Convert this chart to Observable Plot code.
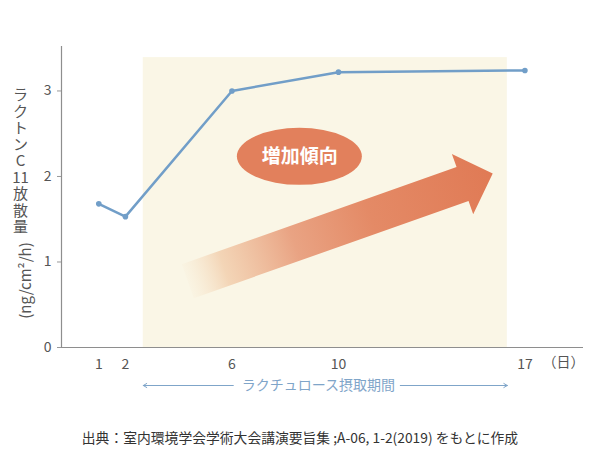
<!DOCTYPE html>
<html><head><meta charset="utf-8">
<script src="https://cdn.jsdelivr.net/npm/d3@7"></script>
<script src="https://cdn.jsdelivr.net/npm/@observablehq/plot@0.6"></script>
<style>
body{margin:0;background:#fff;font-family:"Noto Sans CJK JP","Noto Sans",sans-serif;}
#chart{width:600px;}
.caption{font-size:13.8px;line-height:18px;color:#333;text-align:center;margin-top:8px;}
</style></head><body><div id="chart"></div>
<script>
// data
const days = [1, 2, 6, 10, 17];
const emission = [1.68, 1.53, 3.00, 3.22, 3.24];
const yTicks = [0, 1, 2, 3];
const intakePeriod = [2.67, 16.34];   // ラクチュロース摂取期間 (日)
const intakeTop = 3.39;
const trendTail = [4.36, 0.77];
const trendTip = [15.81, 2.03];
const trendBadge = [8.55, 2.23];
const badgeText = "増加傾向";
const periodText = "ラクチュロース摂取期間";
const dayUnit = "（日）";
const yLabelChars = ["ラ", "ク", "ト", "ン", "C", "11", "放", "散", "量"];
const yLabelUnit = "(ng/cm²/h)";
const captionText = "出典：室内環境学会学術大会講演要旨集 ;A-06, 1-2(2019) をもとに作成";

const points = days.map((d, i) => ({day: d, value: emission[i]}));
const periodMid = (intakePeriod[0] + intakePeriod[1]) / 2;

function trendDecor(index, scales) {
  const {x, y} = scales;
  const g = d3.create("svg:g");
  const t = [x(trendTail[0]), y(trendTail[1])];
  const p = [x(trendTip[0]), y(trendTip[1])];
  const dx = p[0] - t[0], dy = p[1] - t[1];
  const L = Math.hypot(dx, dy);
  const u = [dx / L, dy / L];
  const n = [-u[1], u[0]];
  const sw = 18, hw = 32, hl = 32;
  const b = [p[0] - u[0] * hl, p[1] - u[1] * hl];
  const pt = (c, k) => [c[0] + n[0] * k, c[1] + n[1] * k];
  const poly = [pt(t, sw), pt(b, sw), pt(b, hw), p, pt(b, -hw), pt(b, -sw), pt(t, -sw)];
  const defs = g.append("defs");
  const grad = defs.append("linearGradient")
    .attr("id", "trendGrad").attr("gradientUnits", "userSpaceOnUse")
    .attr("x1", t[0]).attr("y1", t[1]).attr("x2", p[0]).attr("y2", p[1]);
  [[0, "#f6e2c6", 0.1], [0.12, "#f2cfae", 0.85], [0.35, "#e9a383", 1], [0.6, "#e48a66", 1], [1, "#e07a55", 1]]
    .forEach(([o, c, a]) => grad.append("stop").attr("offset", o).attr("stop-color", c).attr("stop-opacity", a));
  g.append("polygon").attr("points", poly.map(q => q.join(",")).join(" ")).attr("fill", "url(#trendGrad)");
  g.append("ellipse")
    .attr("cx", x(trendBadge[0])).attr("cy", y(trendBadge[1]))
    .attr("rx", 62.5).attr("ry", 28.5).attr("fill", "#e2805c");
  return g.node();
}

const plot = Plot.plot({
  width: 600,
  height: 420,
  marginLeft: 61,
  marginRight: 17,
  marginTop: 46,
  marginBottom: 73,
  x: {domain: [-0.4, 19.2]},
  y: {domain: [0, 3.52]},
  style: {fontFamily: '"Noto Sans CJK JP","Noto Sans",sans-serif', background: "#fff", overflow: "visible"},
  marks: [
    Plot.rect([intakePeriod], {x1: d => d[0], x2: d => d[1], y1: 0, y2: intakeTop, fill: "#faf6e6"}),
    Plot.ruleY([0], {stroke: "#8e8e8e", strokeWidth: 1.2}),
    Plot.ruleX([-0.4], {y1: 0, y2: 3.52, stroke: "#8e8e8e", strokeWidth: 1.2}),
    Plot.axisX(days, {tickSize: 0, tickPadding: 12, fontSize: 14, color: "#555", label: null, tickFormat: d3.format("d")}),
    Plot.axisY(yTicks, {tickSize: 4, tickPadding: 6, fontSize: 14, color: "#555", stroke: "#999", label: null, tickFormat: d3.format("d")}),
    trendDecor,
    Plot.text([badgeText], {x: trendBadge[0], y: trendBadge[1], text: d => d, fill: "#fff", fontSize: 19, fontWeight: "bold"}),
    Plot.line(points, {x: "day", y: "value", stroke: "#719ec8", strokeWidth: 2.5}),
    Plot.dot(points, {x: "day", y: "value", r: 2.8, fill: "#719ec8"}),
    Plot.text([dayUnit], {frameAnchor: "bottom-right", dx: -20, dy: 19, textAnchor: "middle", text: d => d, fontSize: 14, fill: "#555"}),
    Plot.text([periodText], {x: periodMid, y: 0, dy: 38, dx: -7, text: d => d, fontSize: 14, fill: "#7fa5c9"}),
    Plot.arrow([{a: periodMid, b: intakePeriod[0]}], {x1: "a", x2: "b", y1: 0, y2: 0, dy: 38, insetStart: 92, stroke: "#7fa5c9", strokeWidth: 1, headLength: 6}),
    Plot.arrow([{a: periodMid, b: intakePeriod[1]}], {x1: "a", x2: "b", y1: 0, y2: 0, dy: 38, insetStart: 75, stroke: "#7fa5c9", strokeWidth: 1, headLength: 6}),
    Plot.text([yLabelChars.join("\n")], {frameAnchor: "top-left", dx: -41, dy: 42, lineAnchor: "top", textAnchor: "middle", lineHeight: 1.1, text: d => d, fontSize: 15, fill: "#555"}),
    Plot.text([yLabelUnit], {frameAnchor: "top-left", dx: -41, dy: 234, rotate: -90, textAnchor: "middle", text: d => d, fontSize: 15, fill: "#555"})
  ]
});
document.getElementById("chart").appendChild(plot);
const cap = document.createElement("div");
cap.className = "caption";
cap.textContent = captionText;
document.getElementById("chart").appendChild(cap);
</script></body></html>
